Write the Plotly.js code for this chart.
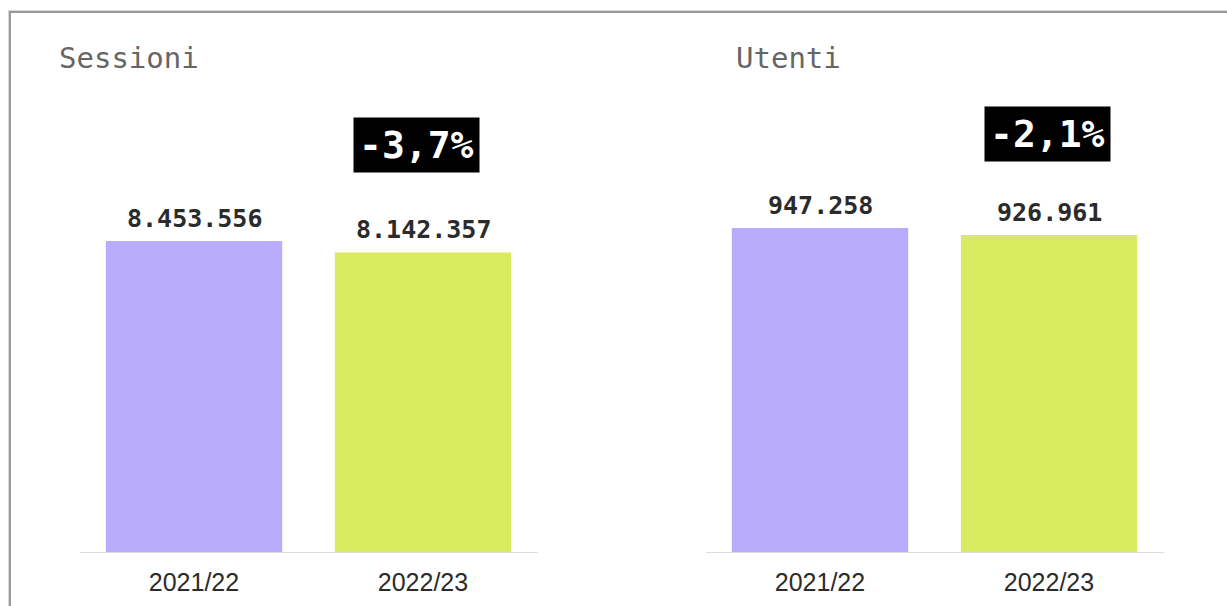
<!DOCTYPE html>
<html>
<head>
<meta charset="utf-8">
<script src="https://cdn.plot.ly/plotly-3.0.1.min.js"></script>
<style>
html,body{margin:0;padding:0;background:#fff;}
#chart{width:1227px;height:606px;}
#frame{position:absolute;left:9px;top:11px;width:1300px;height:700px;border-left:2px solid #9a9a9a;border-top:2px solid #9a9a9a;box-shadow:-1px -1px 0 #d8d8d8;pointer-events:none;}
</style>
</head>
<body>
<div id="chart"></div>
<div id="frame"></div>
<script>
const categories = ["2021/22", "2022/23"];
const sessioni = [8453556, 8142357];
const utenti = [947258, 926961];
const panelTitles = ["Sessioni", "Utenti"];
const changeLabels = ["-3,7%", "-2,1%"];
const barColors = ["#b9acfc", "#d8ea60"];

function fmt(v){ return v.toString().replace(/\B(?=(\d{3})+(?!\d))/g, "."); }

const valueFont = {family: "DejaVu Sans Mono, monospace", size: 25, color: "#2b2b2b", weight: "bold"};

const traces = [
  {type:"bar", x:categories, y:sessioni, xaxis:"x", yaxis:"y",
   marker:{color:barColors}, hoverinfo:"none"},
  {type:"bar", x:categories, y:utenti, xaxis:"x2", yaxis:"y2",
   marker:{color:barColors}, hoverinfo:"none"}
];

const W = 1227, H = 606;
const plotTop = 100, plotBottom = 552;
const yDom = [(H - plotBottom)/H, (H - plotTop)/H];
const tickFont = {family:"Liberation Sans, Arial, sans-serif", size:25, color:"#2b2b2b"};

const axisX = (dom) => ({domain:dom, range:[-0.5,1.5], showgrid:false, zeroline:false,
  showline:true, linecolor:"#dcdcdc", linewidth:1, ticks:"", ticklabelstandoff:8, tickfont:tickFont, fixedrange:true});
const axisY = (dom, max) => ({domain:dom, range:[0,max], visible:false, showgrid:false, zeroline:false, fixedrange:true});

const annFont = {family:"DejaVu Sans Mono, monospace", size:38, color:"#ffffff", weight:"bold"};
const titleFont = {family:"DejaVu Sans Mono, monospace", size:29, color:"#666666"};

const annotations = [
  {xref:"paper", yref:"paper", x:57/W, y:(H-58)/H, xanchor:"left", yanchor:"middle",
   text:panelTitles[0], showarrow:false, font:titleFont},
  {xref:"paper", yref:"paper", x:734/W, y:(H-58)/H, xanchor:"left", yanchor:"middle",
   text:panelTitles[1], showarrow:false, font:titleFont},
  {xref:"x", yref:"y", x:categories[1], y:sessioni[1], yshift:107, xshift:-7,
   text:changeLabels[0], showarrow:false, font:annFont, bgcolor:"#000000", borderpad:5},
  {xref:"x2", yref:"y2", x:categories[1], y:utenti[1], yshift:101, xshift:-2,
   text:changeLabels[1], showarrow:false, font:annFont, bgcolor:"#000000", borderpad:5}
];
[[sessioni, "x", "y"], [utenti, "x2", "y2"]].forEach(([vals, xr, yr]) => {
  vals.forEach((v, i) => annotations.push({xref:xr, yref:yr, x:categories[i], y:v,
    yanchor:"bottom", yshift:6, text:fmt(v), showarrow:false, font:valueFont}));
});

const layout = {
  width:W, height:H, margin:{l:0,r:0,t:0,b:0},
  paper_bgcolor:"#ffffff", plot_bgcolor:"#ffffff", showlegend:false, bargap:0.23,
  xaxis: axisX([79.5/W, 537.5/W]),
  xaxis2: axisX([705.5/W, 1163.5/W]),
  yaxis: axisY(yDom, sessioni[0]*(plotBottom-plotTop)/311),
  yaxis2: axisY(yDom, utenti[0]*(plotBottom-plotTop)/324),
  annotations: annotations
};

Plotly.newPlot("chart", traces, layout, {displayModeBar:false, staticPlot:true});
</script>
</body>
</html>
